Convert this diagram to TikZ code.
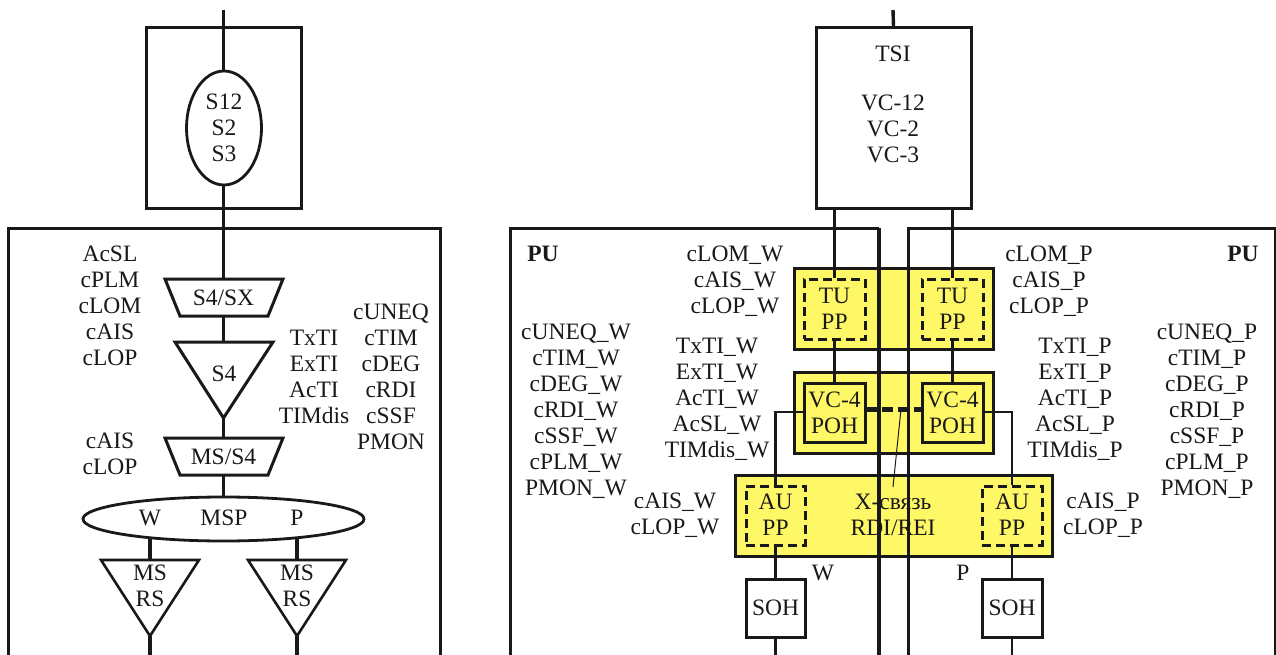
\documentclass[tikz,border=0pt]{standalone}
\usepackage{fontspec}
\usetikzlibrary{shapes.geometric}
\setmainfont{Liberation Serif}
\definecolor{ybox}{RGB}{255,248,102}
\begin{document}
\begin{tikzpicture}[x=1pt,y=-1pt,
  ink/.style={draw=black!90},
  main/.style={ink,line width=3.4pt},
  thin1/.style={ink,line width=2.7pt},
  panel/.style={ink,line width=3pt},
  lbl/.style={anchor=north,inner sep=0pt,align=center,text=black!90,font=\fontsize{23.5}{26}\selectfont},
  boxn/.style={rectangle,inner sep=0pt,line width=3pt,ink},
  yel/.style={boxn,fill=ybox},
  dsh/.style={boxn,dash pattern=on 9pt off 5pt},
]
\useasboundingbox (0,0) rectangle (1276,655);
\fill[white] (0,0) rectangle (1276,655);
% ---------- left part ----------
\coordinate (ltop) at (223.5,10);
\node[boxn,minimum width=155pt,minimum height=180pt] (sbox) at (223.5,118) {};
\draw[panel] (8,655) -- (8,228) -- (440,228) -- (440,655);
\coordinate (s4sxT) at (223.5,279); \coordinate (s4sxB) at (223.5,316);
\coordinate (s4T) at (223.5,342); \coordinate (s4A) at (223.5,418);
\coordinate (msT) at (223.5,438); \coordinate (msB) at (223.5,475);
\node[ellipse,draw=black!90,line width=2.8pt,fill=white,minimum width=281pt,minimum height=44pt,inner sep=0pt] (msp) at (223.5,519) {};
\draw[main] (ltop) -- (s4sxT);
\draw[main] (s4sxB) -- (s4T);
\draw[main] (s4A) -- (msT);
\draw[main] (msB) -- (msp.north);
\node[ellipse,draw=black!90,line width=2.8pt,fill=white,minimum width=75pt,minimum height=114pt,inner sep=0pt] (sel) at (224,128) {};
\draw[boxn] (165,279) -- (283,279) -- (268,316) -- (180,316) -- cycle;
\draw[boxn] (175,342) -- (273,342) -- (s4A) -- cycle;
\draw[boxn] (165,438) -- (283,438) -- (268,475) -- (180,475) -- cycle;
\coordinate (m1T) at (150,560); \coordinate (m1A) at (150,636); \coordinate (m1E) at (150,655);
\coordinate (m2T) at (297,560); \coordinate (m2A) at (297,636); \coordinate (m2E) at (297,655);
\coordinate (mspW) at (150,538); \coordinate (mspP) at (297,538);
\draw[main] (mspW) -- (m1T); \draw[main] (mspP) -- (m2T);
\draw[main] (m1A) -- (m1E); \draw[main] (m2A) -- (m2E);
\draw[boxn,line width=2.6pt] (101,560) -- (199,560) -- (m1A) -- cycle;
\draw[boxn,line width=2.6pt] (248,560) -- (346,560) -- (m2A) -- cycle;
\node[lbl] (tsel) at (224,91) {\strut S12\\S2\\S3};
\node[lbl] (ts4sx) at (223.5,287) {\strut S4/SX};
\node[lbl] (ts4) at (224,363) {\strut S4};
\node[lbl] (tmss4) at (223.5,446) {\strut MS/S4};
\node[lbl] (tw) at (150,507) {\strut W};
\node[lbl] (tmsp) at (224,507) {\strut MSP};
\node[lbl] (tp) at (297,507) {\strut P};
\node[lbl] (tm1) at (150,562) {\strut MS\\RS};
\node[lbl] (tm2) at (297,562) {\strut MS\\RS};
\node[lbl] (l1) at (110,243) {\strut AcSL\\cPLM\\cLOM\\cAIS\\cLOP};
\node[lbl] (l2) at (314,327) {\strut TxTI\\ExTI\\AcTI\\TIMdis};
\node[lbl] (l3) at (391,301) {\strut cUNEQ\\cTIM\\cDEG\\cRDI\\cSSF\\PMON};
\node[lbl] (l4) at (110,430) {\strut cAIS\\cLOP};
% ---------- right part ----------
\coordinate (rtop) at (893,10);
\node[boxn,minimum width=155pt,minimum height=180pt] (tsi) at (893.5,118) {};
\draw[main] (rtop) -- (tsi.north);
\node[lbl] (ttsi) at (893,43) {\strut TSI};
\node[lbl] (tvc) at (893,92) {\strut VC-12\\VC-2\\VC-3};
\node[yel,minimum width=199pt,minimum height=81pt] (y1) at (893.5,308.5) {};
\node[yel,minimum width=199pt,minimum height=81pt] (y2) at (893.5,412.5) {};
\node[yel,minimum width=317pt,minimum height=81pt] (y3) at (893.5,515.5) {};
% PU panels
\draw[panel] (510,655) -- (510,228) -- (879,228);
\draw[main] (879,228) -- (879,655);
\draw[panel] (908,655) -- (908,228) -- (1275,228) -- (1275,655);
\node[dsh,minimum width=61pt,minimum height=60pt] (tu1) at (834.5,309) {};
\node[dsh,minimum width=61pt,minimum height=60pt] (tu2) at (952.5,309) {};
\node[boxn,minimum width=61pt,minimum height=59pt] (vc1) at (834.5,412.5) {};
\node[boxn,minimum width=61pt,minimum height=59pt] (vc2) at (952.5,412.5) {};
\node[dsh,minimum width=59pt,minimum height=59pt] (au1) at (775.5,515.5) {};
\node[dsh,minimum width=60pt,minimum height=59pt] (au2) at (1012,515.5) {};
\node[boxn,fill=white,minimum width=59pt,minimum height=58pt] (soh1) at (775.5,608) {};
\node[boxn,fill=white,minimum width=60pt,minimum height=58pt] (soh2) at (1012,608) {};
\coordinate (se1) at (775.5,655); \coordinate (se2) at (1012,655);
\draw[main] (tsi.south -| tu1) -- (tu1.north);
\draw[main] (tsi.south -| tu2) -- (tu2.north);
\draw[main] (tu1.south) -- (vc1.north);
\draw[main] (tu2.south) -- (vc2.north);
\coordinate (c1) at (775.5,412); \coordinate (c2) at (1012,412);
\draw[thin1] (vc1.west |- c1) -- (c1) -- (au1.north);
\draw[thin1] (vc2.east |- c2) -- (c2) -- (au2.north);
\draw[thin1] (au1.south) -- (soh1.north);
\draw[thin1] (au2.south) -- (soh2.north);
\draw[thin1] (soh1.south) -- (se1);
\draw[thin1] (soh2.south) -- (se2);
\draw[ink,line width=5pt,dash pattern=on 10.5pt off 5.3pt] (vc1.east |- 0,409) -- (vc2.west |- 0,409);
\coordinate (ptr) at (901,409); \coordinate (ptrE) at (893,487);
\draw[ink,line width=1pt] (ptr) -- (ptrE);
\node[lbl] (ttu1) at (834.5,285) {\strut TU\\PP};
\node[lbl] (ttu2) at (952.5,285) {\strut TU\\PP};
\node[lbl] (tvc1) at (834.5,389) {\strut VC-4\\POH};
\node[lbl] (tvc2) at (952.5,389) {\strut VC-4\\POH};
\node[lbl] (tau1) at (775.5,491) {\strut AU\\PP};
\node[lbl] (tau2) at (1012,491) {\strut AU\\PP};
\node[lbl] (tx) at (893,491) {\strut X-связь\\RDI/REI};
\node[lbl] (ts1) at (775.5,597) {\strut SOH};
\node[lbl] (ts2) at (1012,597) {\strut SOH};
\node[lbl] (tW) at (823,562) {\strut W};
\node[lbl] (tP) at (963,562) {\strut P};
\node[lbl,font=\fontsize{23.5}{26}\selectfont\bfseries] (pu1) at (543,243) {\strut PU};
\node[lbl,font=\fontsize{23.5}{26}\selectfont\bfseries] (pu2) at (1243,243) {\strut PU};
\node[lbl] (a1) at (735,243) {\strut cLOM\_W\\cAIS\_W\\cLOP\_W};
\node[lbl] (a2) at (1049,243) {\strut cLOM\_P\\cAIS\_P\\cLOP\_P};
\node[lbl] (a3) at (576,321) {\strut cUNEQ\_W\\cTIM\_W\\cDEG\_W\\cRDI\_W\\cSSF\_W\\cPLM\_W\\PMON\_W};
\node[lbl] (a4) at (1207,321) {\strut cUNEQ\_P\\cTIM\_P\\cDEG\_P\\cRDI\_P\\cSSF\_P\\cPLM\_P\\PMON\_P};
\node[lbl] (a5) at (717,335) {\strut TxTI\_W\\ExTI\_W\\AcTI\_W\\AcSL\_W\\TIMdis\_W};
\node[lbl] (a6) at (1075,335) {\strut TxTI\_P\\ExTI\_P\\AcTI\_P\\AcSL\_P\\TIMdis\_P};
\node[lbl] (a7) at (675,490) {\strut cAIS\_W\\cLOP\_W};
\node[lbl] (a8) at (1103,490) {\strut cAIS\_P\\cLOP\_P};
\end{tikzpicture}
\end{document}
